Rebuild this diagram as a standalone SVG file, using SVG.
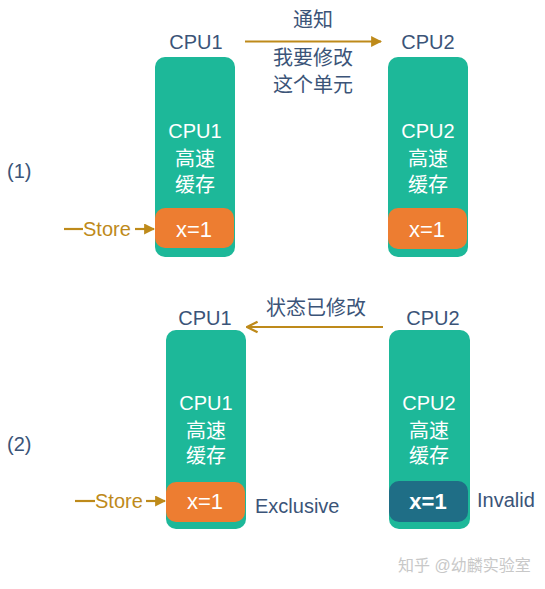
<svg xmlns="http://www.w3.org/2000/svg" width="545" height="589" viewBox="0 0 545 589">
<defs>
<style>
text{font-family:"Liberation Sans","Noto Sans CJK SC",sans-serif;font-size:20px}
.lbl{fill:#3B5478}
.w{fill:#ffffff;text-anchor:middle}
.box{fill:#1DB899}
.cell{fill:#ED7D31}
.inv{fill:#1F6E86}
.gold{fill:#BE8A1A}
.ln{stroke:#BE8A1A;stroke-width:2.2;fill:none}
</style>
<marker id="tri" viewBox="0 0 10 10" refX="9" refY="5" markerWidth="5" markerHeight="5" orient="auto">
<path d="M0,0 L10,5 L0,10 Z" fill="#BE8A1A"/>
</marker>
<marker id="open" viewBox="0 0 10 10" refX="9" refY="5" markerWidth="6" markerHeight="6" orient="auto">
<path d="M1,1 L9,5 L1,9" fill="none" stroke="#BE8A1A" stroke-width="1.8"/>
</marker>
</defs>
<rect width="545" height="589" fill="#ffffff"/>

<text class="lbl" x="7" y="178">(1)</text>
<text class="lbl" x="7" y="451">(2)</text>

<g id="cpu1-top">
<text class="lbl" x="196" y="49" text-anchor="middle">CPU1</text>
<rect class="box" x="155" y="57" width="80" height="200" rx="10"/>
<text class="w" x="195" y="138">CPU1</text>
<text class="w" x="195" y="166">高速</text>
<text class="w" x="195" y="192">缓存</text>
<rect class="cell" x="155" y="208" width="79" height="40" rx="10"/>
<text class="w" x="194" y="237" style="font-size:22px">x=1</text>
</g>

<g id="cpu2-top">
<text class="lbl" x="428" y="49" text-anchor="middle">CPU2</text>
<rect class="box" x="388" y="57" width="80" height="200" rx="10"/>
<text class="w" x="428" y="138">CPU2</text>
<text class="w" x="428" y="166">高速</text>
<text class="w" x="428" y="192">缓存</text>
<rect class="cell" x="388" y="208" width="79" height="41" rx="10"/>
<text class="w" x="427" y="237" style="font-size:22px">x=1</text>
</g>

<g id="cpu1-bottom">
<text class="lbl" x="205" y="325" text-anchor="middle">CPU1</text>
<rect class="box" x="166" y="330" width="80" height="199" rx="10"/>
<text class="w" x="206" y="410">CPU1</text>
<text class="w" x="206" y="438">高速</text>
<text class="w" x="206" y="463">缓存</text>
<rect class="cell" x="166" y="482" width="79" height="40" rx="10"/>
<text class="w" x="205" y="509" style="font-size:22px">x=1</text>
<text class="lbl" x="255" y="513">Exclusive</text>
</g>

<g id="cpu2-bottom">
<text class="lbl" x="433" y="325" text-anchor="middle">CPU2</text>
<rect class="box" x="389" y="330" width="81" height="199" rx="10"/>
<text class="w" x="429" y="410">CPU2</text>
<text class="w" x="429" y="438">高速</text>
<text class="w" x="429" y="463">缓存</text>
<rect class="inv" x="389" y="481" width="79" height="41" rx="10"/>
<text class="w" x="428" y="509" style="font-size:22px;font-weight:bold">x=1</text>
<text class="lbl" x="477" y="507">Invalid</text>
</g>

<g id="connectors">
<line class="ln" x1="245" y1="41.5" x2="381" y2="41.5" marker-end="url(#tri)"/>
<text class="lbl" x="313" y="27" text-anchor="middle">通知</text>
<text class="lbl" x="313" y="65" text-anchor="middle">我要修改</text>
<text class="lbl" x="313" y="92" text-anchor="middle">这个单元</text>

<line class="ln" x1="383" y1="327" x2="247" y2="327" marker-end="url(#open)"/>
<text class="lbl" x="316" y="315" text-anchor="middle">状态已修改</text>

<line class="ln" x1="64" y1="229" x2="83" y2="229"/>
<text class="gold" x="83" y="236">Store</text>
<line class="ln" x1="135" y1="229" x2="154" y2="229" marker-end="url(#tri)"/>

<line class="ln" x1="75" y1="501" x2="95" y2="501"/>
<text class="gold" x="95" y="508">Store</text>
<line class="ln" x1="146" y1="501" x2="165" y2="501" marker-end="url(#tri)"/>
</g>

<text x="398" y="571" fill="#C8C8C8" style="font-size:16px">知乎 @幼麟实验室</text>
</svg>
